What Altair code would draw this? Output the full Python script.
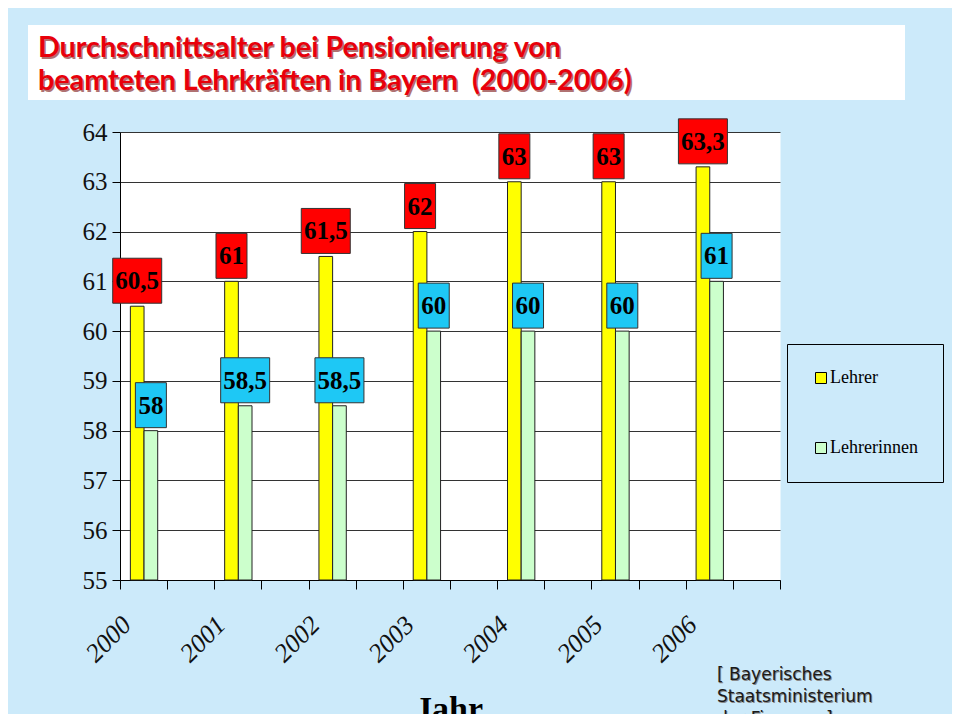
import altair as alt
import pandas as pd

# ---------------- data ----------------
years = ["2000", "2001", "2002", "2003", "2004", "2005", "2006"]
lehrer = [60.5, 61, 61.5, 62, 63, 63, 63.3]
lehrerinnen = [58, 58.5, 58.5, 60, 60, 60, 61]
series_names = ["Lehrer", "Lehrerinnen"]
series_colors = ["#ffff00", "#ccffcc"]
title_lines = ["Durchschnittsalter bei Pensionierung von",
               "beamteten Lehrkräften in Bayern\u00a0 (2000-2006)"]
source_lines = ["[ Bayerisches", "Staatsministerium", "\u00a0der Finanzen]"]
axis_title = "Jahr"
y_ticks = list(range(55, 65))
x_ticks = [i / 2 for i in range(15)]

BG = "#cceafa"


def fmt(v):
    return f"{v:g}".replace(".", ",")


rows = []
for i, yr in enumerate(years):
    for s, vals in zip(series_names, [lehrer, lehrerinnen]):
        rows.append({"idx": i, "year": yr, "series": s,
                     "value": vals[i], "label": fmt(vals[i])})
df = pd.DataFrame(rows)
df_years = pd.DataFrame({"idx": list(range(len(years))), "year": years})
df_title = pd.DataFrame({"line": title_lines, "row": [0, 1]})
df_source = pd.DataFrame({"line": source_lines, "row": [0, 1, 2]})
df_one = pd.DataFrame({"t": [axis_title]})

xscale = alt.Scale(domain=[0, 7], nice=False, zero=False, padding=0)
yscale = alt.Scale(domain=[55, 64], nice=False, zero=False)

base = alt.Chart(df).transform_calculate(
    start="datum.idx + (datum.series == 'Lehrer' ? 0.11 : 0.255)"
).transform_calculate(
    end="datum.start + 0.145",
    center="datum.start + 0.0725",
)

bars = base.mark_bar(stroke="#222", strokeWidth=1).encode(
    x=alt.X("start:Q", scale=xscale,
            axis=alt.Axis(values=x_ticks, labels=False, title=None, grid=False,
                          tickSize=9, tickColor="black", domainColor="black")),
    x2="end:Q",
    y=alt.Y("value:Q", scale=yscale,
            axis=alt.Axis(values=y_ticks, title=None, tickSize=8,
                          tickColor="black", domainColor="black",
                          labelFont="Liberation Serif", labelFontSize=25,
                          labelColor="#111", labelPadding=5,
                          gridColor="#333", gridWidth=1)),
    y2=alt.datum(55),
    color=alt.Color("series:N",
                    scale=alt.Scale(domain=series_names, range=series_colors),
                    legend=alt.Legend(title=None, orient="none", legendX=667,
                                      legendY=212, padding=25,
                                      strokeColor="black", fillColor=BG,
                                      symbolType="square", symbolSize=121,
                                      symbolStrokeColor="black",
                                      symbolStrokeWidth=1,
                                      labelFont="Liberation Serif",
                                      labelFontSize=18, labelColor="black",
                                      rowPadding=52, labelOffset=0)),
)

box_fill = alt.condition("datum.series == 'Lehrer'",
                         alt.value("#ff0000"), alt.value("#1ec8f5"))

box_short = base.transform_filter("length(datum.label) <= 2").mark_bar(
    width=31, stroke="#333", strokeWidth=1, yOffset=-48, y2Offset=-3
).encode(x="center:Q", y="value:Q", y2="value:Q", fill=box_fill)

box_long = base.transform_filter("length(datum.label) > 2").mark_bar(
    width=49, stroke="#333", strokeWidth=1, yOffset=-48, y2Offset=-3
).encode(x="center:Q", y="value:Q", y2="value:Q", fill=box_fill)

box_text = base.mark_text(font="Liberation Serif", fontWeight="bold",
                          fontSize=25, dy=-25, baseline="middle",
                          color="black").encode(
    x="center:Q", y="value:Q", text="label:N")

year_text = alt.Chart(df_years).transform_calculate(
    pos="datum.idx + 0.075"
).mark_text(angle=315, align="right", baseline="middle",
            font="Liberation Serif", fontStyle="italic", fontSize=26,
            color="#111").encode(
    x=alt.X("pos:Q", scale=xscale), y=alt.value(489), text="year:N")

title_box = alt.Chart(df_one).mark_rect(fill="white").encode(
    x=alt.value(-92), x2=alt.value(785), y=alt.value(-107), y2=alt.value(-32))

title_shadow = alt.Chart(df_title).transform_calculate(
    py="-75 + datum.row * 33"
).mark_text(align="left", baseline="alphabetic", font="Lato",
            fontWeight="bold", fontSize=28.7, color="#700000", opacity=0.55,
            dx=1.5, dy=1.5).encode(
    x=alt.value(-82), y=alt.Y("py:Q", scale=None), text="line:N")

title_text = alt.Chart(df_title).transform_calculate(
    py="-75 + datum.row * 33"
).mark_text(align="left", baseline="alphabetic", font="Lato",
            fontWeight="bold", fontSize=28.7, color="#e8000b").encode(
    x=alt.value(-82), y=alt.Y("py:Q", scale=None), text="line:N")

source_shadow = alt.Chart(df_source).transform_calculate(
    py="543 + datum.row * 22"
).mark_text(align="left", baseline="middle", font="DejaVu Sans",
            fontSize=17, color="#888", dx=1, dy=1).encode(
    x=alt.value(597), y=alt.Y("py:Q", scale=None), text="line:N")

source_text = alt.Chart(df_source).transform_calculate(
    py="543 + datum.row * 22"
).mark_text(align="left", baseline="middle", font="DejaVu Sans",
            fontSize=17, color="#1a1a1a").encode(
    x=alt.value(597), y=alt.Y("py:Q", scale=None), text="line:N")

jahr_text = alt.Chart(df_one).mark_text(
    align="center", baseline="alphabetic", font="Liberation Serif",
    fontWeight="bold", fontSize=34, color="black").encode(
    x=alt.value(329), y=alt.value(588), text="t:N")

chart = alt.layer(
    title_box, title_shadow, title_text,
    bars, box_short, box_long, box_text, year_text,
    source_shadow, source_text, jahr_text,
).properties(
    width=660, height=448,
    autosize=alt.AutoSizeParams(type="none"),
    padding={"left": 112, "top": 124, "right": 172, "bottom": 134},
    background=BG,
).configure_view(fill="white", stroke="transparent")

chart.save("out.html", embed_options={"renderer": "svg", "actions": False})
